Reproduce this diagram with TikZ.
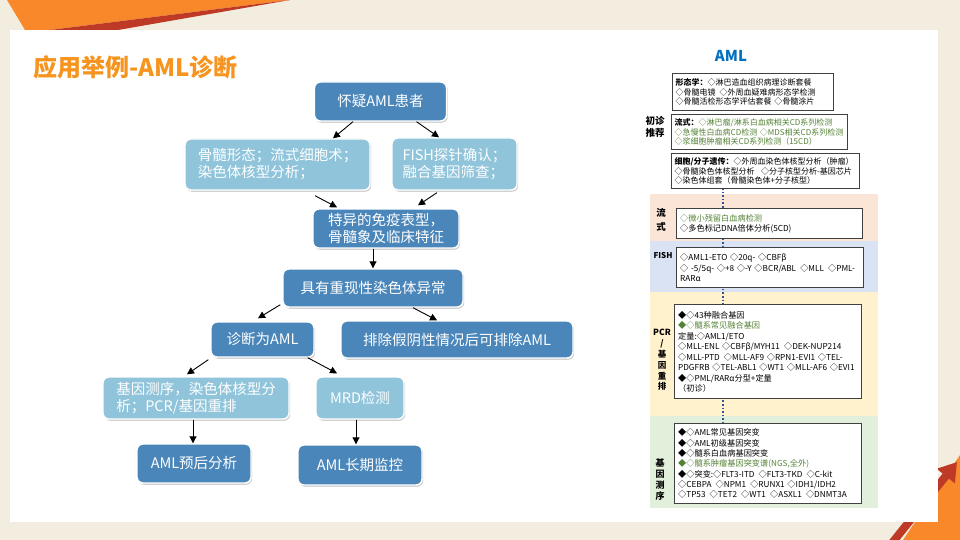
\documentclass[tikz,border=0pt]{standalone}
\usepackage{fontspec}
\setmainfont{Noto Sans CJK SC}
\usetikzlibrary{arrows.meta,shadows}
\exhyphenpenalty=10000
\hyphenpenalty=10000

\definecolor{beige}{RGB}{242,237,222}
\definecolor{orng}{RGB}{248,136,42}
\definecolor{redd}{RGB}{190,58,38}
\definecolor{ttl}{RGB}{246,148,30}
\definecolor{dblue}{RGB}{74,134,185}
\definecolor{lblue}{RGB}{143,196,219}
\definecolor{amlblue}{RGB}{0,112,192}
\definecolor{grn}{RGB}{84,130,53}
\definecolor{boxgray}{RGB}{64,64,64}
\definecolor{dotblue}{RGB}{47,85,151}
\definecolor{pinkbg}{RGB}{251,229,214}
\definecolor{bluebg}{RGB}{218,227,243}
\definecolor{yelbg}{RGB}{255,242,204}
\definecolor{grnbg}{RGB}{226,239,218}

\begin{document}
\begin{tikzpicture}[x=1pt,y=-1pt,
  flow/.style={rounded corners=6pt, draw=white, line width=1.4pt, fill=dblue, text=white,
    font=\fontsize{14.5}{17}\selectfont, align=left, inner sep=2pt,
    drop shadow={shadow xshift=1.2pt, shadow yshift=-1.8pt, opacity=.35}},
  lflow/.style={flow, fill=lblue},
  arr/.style={-{Triangle[length=7pt,width=7pt]}, line width=.9pt},
  info/.style={draw=boxgray, line width=1.3pt, fill=white, anchor=north west, align=left,
    inner xsep=3.5pt, inner ysep=0pt, font=\fontsize{8.2}{10.3}\selectfont},
  topinfo/.style={info, inner xsep=3pt, font=\fontsize{8}{9.6}\selectfont},
  tag/.style={font=\bfseries\fontsize{9.5}{12}\selectfont, align=center, inner sep=0pt},
  dline/.style={draw=dotblue, line width=1.6pt, dash pattern=on 1.6pt off 2pt}]
\useasboundingbox (0,0) rectangle (960,540);

\fill[beige] (0,0) rectangle (960,540);
\fill[orng] (7,0) -- (290,0) -- (50,30) -- (25,30) -- cycle;
\fill[redd] (290,0) -- (50,30) -- (118,30) -- cycle;
\fill[orng] (903,540) -- (960,455) -- (960,540) -- cycle;
\draw[redd, line width=8pt, -{Triangle[length=18pt,width=22pt]}] (888,548) -- (957,462);
\fill[white] (10,30) rectangle (938,522);

\node[anchor=west, inner sep=0pt, text=ttl, font=\bfseries\fontsize{24}{24}\selectfont] (title) at (33,67) {应用举例-AML诊断};

% right panel
\node[text=amlblue, font=\bfseries\fontsize{15}{15}\selectfont] (amlhead) at (731,56) {AML};
\fill[pinkbg] (650,194) rectangle (878,241);
\fill[bluebg] (650,241) rectangle (878,292);
\fill[yelbg] (650,292) rectangle (878,416);
\fill[grnbg] (650,416) rectangle (878,508);
\coordinate (dtop) at (723,188);
\coordinate (dbot) at (723,423);
\draw[dline] (dtop) -- (dbot);

\node[topinfo, text width=155pt, minimum height=37pt] (xingtai) at (672,73)
  {\textbf{形态学：}◇淋巴造血组织病理诊断套餐\\◇骨髓电镜\enspace◇外周血疑难病形态学检测\\◇骨髓活检形态学评估套餐~◇骨髓涂片};
\node[topinfo, text width=170pt, minimum height=35pt] (liushia) at (671,114)
  {\textbf{流式：}\textcolor{grn}{◇淋巴瘤/淋系白血病相关CD系列检测}\\{\color{grn}◇急慢性白血病CD检测~◇MDS相关CD系列检测}\\{\color{grn}◇浆细胞肿瘤相关CD系列检测（15CD）}};
\node[topinfo, text width=182pt, minimum height=35pt] (xibao) at (671,153)
  {\textbf{细胞/分子遗传：}◇外周血染色体核型分析（肿瘤）\\◇骨髓染色体核型分析\kern.8em◇分子核型分析-基因芯片\\◇染色体组套（骨髓染色体+分子核型）};
\node[info, text width=179pt, minimum height=30pt] (liushib) at (676,208)
  {{\color{grn}◇微小残留白血病检测}\\◇多色标记DNA倍体分析(5CD)};
\node[info, text width=180pt, minimum height=40pt] (fish) at (676,247)
  {◇AML1-ETO~◇20q-~◇CBFβ\\◇~-5/5q-~◇+8~◇-Y~◇BCR/ABL\enspace◇MLL\enspace◇PML-\\RARα};
\node[info, font=\fontsize{8.2}{10.5}\selectfont, text width=180pt, minimum height=94pt] (pcr) at (674,304)
  {◆◇43种融合基因\\{\color{grn}◆◇髓系常见融合基因}\\定量:◇AML1/ETO\\◇MLL-ENL~◇CBFβ/MYH11\enspace◇DEK-NUP214\\◇MLL-PTD\enspace◇MLL-AF9~◇RPN1-EVI1~◇TEL-\\PDGFRB~◇TEL-ABL1~◇WT1~◇MLL-AF6~◇EVI1\\◆◇PML/RARα分型+定量\\（初诊）};
\node[info, text width=180pt, minimum height=80pt] (gene) at (674,423)
  {◆◇AML常见基因突变\\◆◇AML初级基因突变\\◆◇髓系白血病基因突变\\{\color{grn}◆◇髓系肿瘤基因突变谱(NGS,全外)}\\◆◇突变:◇FLT3-ITD\enspace◇FLT3-TKD\enspace◇C-kit\\◇CEBPA\enspace◇NPM1\enspace◇RUNX1~◇IDH1/IDH2\\◇TP53\enspace◇TET2\enspace◇WT1\enspace◇ASXL1\enspace◇DNMT3A};

\node[tag] (chuzhen) at (655,127) {初诊\\推荐};
\node[tag, font=\bfseries\fontsize{9.5}{13.5}\selectfont] (liushitag) at (661,220) {流\\式};
\node[tag, font=\bfseries\fontsize{8}{10}\selectfont] (fishtag) at (663,256) {FISH};
\node[tag, font=\bfseries\fontsize{8.5}{10.8}\selectfont] (pcrtag) at (662,360) {PCR\\/\\基\\因\\重\\排};
\node[tag, font=\bfseries\fontsize{9}{11}\selectfont] (genetag) at (660,479.5) {基\\因\\测\\序};

% flow chart
\node[flow, minimum width=132pt, minimum height=39pt, align=center] (suspect) at (380.5,101.5) {怀疑AML患者};
\node[lflow, minimum width=185pt, minimum height=51pt] (morph) at (277.5,164.5) {骨髓形态；流式细胞术；\\染色体核型分析；};
\node[lflow, minimum width=125pt, minimum height=52pt] (fishck) at (454.5,164) {FISH探针确认；\\融合基因筛查；};
\node[flow, minimum width=146pt, minimum height=39pt] (special) at (386,228.5) {特异的免疫表型，\\骨髓象及临床特征};
\node[flow, minimum width=180pt, minimum height=38pt] (recur) at (373,288) {具有重现性染色体异常};
\node[flow, minimum width=103pt, minimum height=35pt] (diag) at (262.5,339.5) {诊断为AML};
\node[flow, minimum width=232pt, minimum height=37pt] (exclude) at (457,339.5) {排除假阴性情况后可排除AML};
\node[lflow, minimum width=186pt, minimum height=42pt] (seq) at (196,398) {基因测序，染色体核型分\\析；PCR/基因重排};
\node[lflow, minimum width=88pt, minimum height=42pt] (mrd) at (360,398) {MRD检测};
\node[flow, minimum width=114pt, minimum height=39pt] (prog) at (194,463.5) {AML预后分析};
\node[flow, minimum width=124pt, minimum height=40pt] (monitor) at (360,465) {AML长期监控};

\draw[arr] ([xshift=-27.5pt]suspect.south) -- ([xshift=55.5pt]morph.north);
\draw[arr] ([xshift=36pt]suspect.south) -- ([xshift=-15.5pt]fishck.north);
\draw[arr] ([xshift=37.5pt,yshift=-5pt]morph.south) -- ([xshift=-49pt,yshift=1pt]special.north);
\draw[arr] ([xshift=-17.5pt,yshift=-2pt]fishck.south) -- ([xshift=32pt,yshift=3pt]special.north);
\draw[arr] ([xshift=-13pt]special.south) -- (recur.north);
\draw[arr] ([xshift=-2pt,yshift=3pt]recur.south west) -- ([xshift=-4.5pt,yshift=3pt]diag.north);
\draw[arr] ([xshift=40pt]recur.south) -- ([xshift=-20pt]exclude.north);
\draw[arr] ([xshift=-2pt,yshift=-2pt]diag.south west) -- ([xshift=-9pt,yshift=2pt]seq.north);
\draw[arr] ([xshift=-7pt]diag.south east) -- ([xshift=-23pt,yshift=3pt]mrd.north);
\draw[arr] ([xshift=-3pt]seq.south) -- ([xshift=-1pt]prog.north);
\draw[arr] ([xshift=-4pt]mrd.south) -- ([xshift=-4pt]monitor.north);
\end{tikzpicture}
\end{document}
